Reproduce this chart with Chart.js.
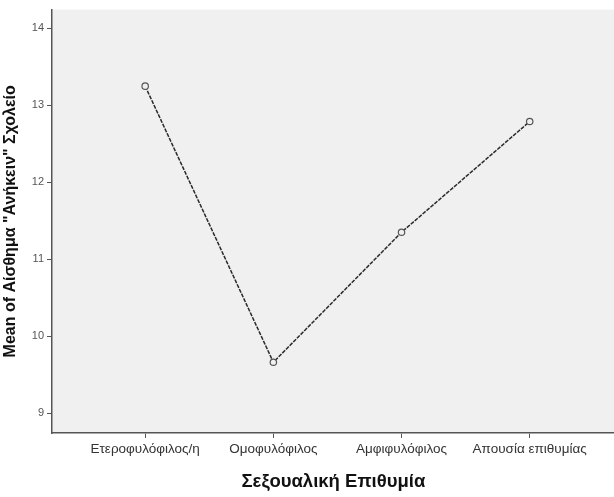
<!DOCTYPE html>
<html>
<head>
<meta charset="utf-8">
<script src="https://cdn.jsdelivr.net/npm/chart.js@4"></script>
<style>
  html, body { margin: 0; padding: 0; background: #fff; overflow: hidden; }
  #wrap { width: 620px; height: 497px; }
</style>
</head>
<body>
<div id="wrap"><canvas id="chart"></canvas></div>
<script>
const categories = ['Ετεροφυλόφιλος/η', 'Ομοφυλόφιλος', 'Αμφιφυλόφιλος', 'Απουσία επιθυμίας'];
const meanValues = [13.25, 9.66, 11.35, 12.79];
const yTicks = [9, 10, 11, 12, 13, 14];

const plotBg = {
    id: 'plotBg',
    beforeDraw(chart) {
        const a = chart.chartArea;
        const ctx = chart.ctx;
        ctx.save();
        ctx.fillStyle = '#f0f0f0';
        ctx.fillRect(a.left, a.top, a.right - a.left, a.bottom - a.top);
        ctx.restore();
    }
};

const ctx = document.getElementById('chart');

new Chart(ctx, {
    type: 'line',
    data: {
        datasets: [{
            data: meanValues.map((v, i) => ({x: i, y: v})),
            borderColor: '#2a2a2a',
            borderWidth: 1.5,
            borderDash: [4, 1.2],
            pointRadius: 3.2,
            pointBorderWidth: 1.2,
            pointBorderColor: '#555',
            pointBackgroundColor: '#f0f0f0',
            tension: 0
        }]
    },
    options: {
        responsive: true,
        maintainAspectRatio: false,
        animation: false,
        layout: {padding: {top: 5, right: 0, left: 0, bottom: 0}},
        plugins: {legend: {display: false}, tooltip: {enabled: false}},
        scales: {
            x: {
                type: 'linear',
                min: -0.727,
                max: 3.664,
                afterBuildTicks: (s) => { s.ticks = categories.map((c, i) => ({value: i})); },
                afterFit: (s) => { s.height = 64; },
                grid: {drawOnChartArea: false, drawTicks: true, tickLength: 5, color: '#555'},
                border: {color: '#555', width: 1.5},
                ticks: {
                    autoSkip: false,
                    maxRotation: 0,
                    padding: 3,
                    color: '#333',
                    font: {family: 'Liberation Sans, Arial, sans-serif', size: 13.5},
                    callback: (v) => categories[v]
                },
                title: {
                    display: true,
                    text: 'Σεξουαλική Επιθυμία',
                    color: '#111',
                    padding: {top: 2, bottom: 4},
                    font: {family: 'Liberation Sans, Arial, sans-serif', size: 18.5, weight: 'bold'}
                }
            },
            y: {
                min: 8.74,
                max: 14.245,
                afterBuildTicks: (s) => { s.ticks = yTicks.map(v => ({value: v})); },
                afterFit: (s) => { s.width = 52; },
                grid: {drawOnChartArea: false, drawTicks: true, tickLength: 5, color: '#555'},
                border: {color: '#555', width: 1.5},
                ticks: {
                    padding: 3,
                    color: '#555',
                    font: {family: 'Liberation Sans, Arial, sans-serif', size: 11}
                },
                title: {
                    display: true,
                    text: 'Mean of Αίσθημα "Ανήκειν" Σχολείο',
                    color: '#111',
                    padding: {top: 1, bottom: 2},
                    font: {family: 'Liberation Sans, Arial, sans-serif', size: 16, weight: 'bold'}
                }
            }
        }
    },
    plugins: [plotBg]
});
</script>
</body>
</html>
